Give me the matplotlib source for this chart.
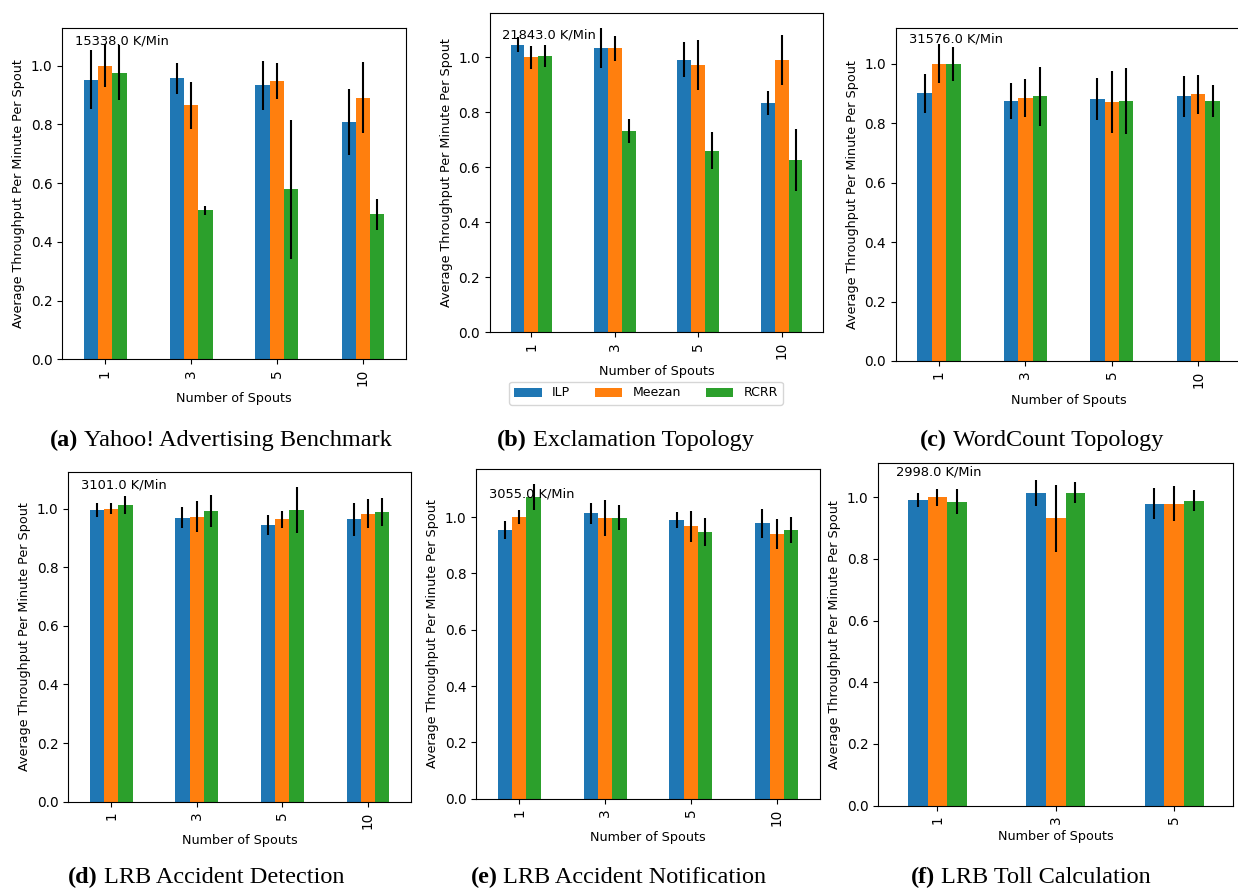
import matplotlib
matplotlib.use("Agg")
import matplotlib.pyplot as plt
import numpy as np
from matplotlib.offsetbox import TextArea, HPacker, AnchoredOffsetbox

# ---- data -------------------------------------------------------------
series_names = ["ILP", "Meezan", "RCRR"]
series_colors = ["#1f77b4", "#ff7f0e", "#2ca02c"]

spouts_4 = ["1", "3", "5", "10"]
spouts_3 = ["1", "3", "5"]

# (a) Yahoo! Advertising Benchmark
a_ilp = [0.952, 0.956, 0.933, 0.808]
a_ilp_err = [0.100, 0.052, 0.084, 0.112]
a_meezan = [1.000, 0.865, 0.947, 0.891]
a_meezan_err = [0.074, 0.080, 0.061, 0.122]
a_rcrr = [0.976, 0.507, 0.578, 0.494]
a_rcrr_err = [0.095, 0.015, 0.235, 0.053]
a_note = "15338.0 K/Min"

# (b) Exclamation Topology
b_ilp = [1.046, 1.035, 0.992, 0.834]
b_ilp_err = [0.027, 0.072, 0.065, 0.045]
b_meezan = [1.000, 1.033, 0.972, 0.992]
b_meezan_err = [0.043, 0.045, 0.092, 0.091]
b_rcrr = [1.005, 0.731, 0.661, 0.627]
b_rcrr_err = [0.040, 0.044, 0.067, 0.114]
b_note = "21843.0 K/Min"

# (c) WordCount Topology
c_ilp = [0.900, 0.874, 0.881, 0.890]
c_ilp_err = [0.066, 0.060, 0.070, 0.069]
c_meezan = [1.000, 0.885, 0.871, 0.897]
c_meezan_err = [0.066, 0.063, 0.104, 0.066]
c_rcrr = [1.000, 0.890, 0.874, 0.874]
c_rcrr_err = [0.057, 0.098, 0.111, 0.054]
c_note = "31576.0 K/Min"

# (d) LRB Accident Detection
d_ilp = [0.995, 0.969, 0.943, 0.963]
d_ilp_err = [0.023, 0.035, 0.034, 0.057]
d_meezan = [1.000, 0.972, 0.963, 0.982]
d_meezan_err = [0.020, 0.052, 0.030, 0.050]
d_rcrr = [1.011, 0.992, 0.995, 0.989]
d_rcrr_err = [0.031, 0.054, 0.077, 0.047]
d_note = "3101.0 K/Min"

# (e) LRB Accident Notification
e_ilp = [0.954, 1.014, 0.991, 0.978]
e_ilp_err = [0.031, 0.037, 0.028, 0.052]
e_meezan = [1.000, 0.998, 0.967, 0.940]
e_meezan_err = [0.026, 0.064, 0.054, 0.054]
e_rcrr = [1.071, 0.998, 0.947, 0.954]
e_rcrr_err = [0.045, 0.044, 0.051, 0.046]
e_note = "3055.0 K/Min"

# (f) LRB Toll Calculation
f_ilp = [0.991, 1.015, 0.979]
f_ilp_err = [0.022, 0.042, 0.051]
f_meezan = [1.000, 0.931, 0.979]
f_meezan_err = [0.027, 0.110, 0.057]
f_rcrr = [0.986, 1.015, 0.989]
f_rcrr_err = [0.039, 0.033, 0.035]
f_note = "2998.0 K/Min"

captions = [
    ("(a)", "Yahoo! Advertising Benchmark"),
    ("(b)", "Exclamation Topology"),
    ("(c)", "WordCount Topology"),
    ("(d)", "LRB Accident Detection"),
    ("(e)", "LRB Accident Notification"),
    ("(f)", "LRB Toll Calculation"),
]

# ---- layout -----------------------------------------------------------
W, H = 1238, 890
fig = plt.figure(figsize=(W / 100, H / 100), dpi=100)
FS = 9.2
TICK_FS = 9.8


def px_axes(x0, y0, x1, y1):
    return fig.add_axes([x0 / W, 1 - y1 / H, (x1 - x0) / W, (y1 - y0) / H])


def grouped_bars(ax, ticks, vals, errs, note):
    n = len(ticks)
    x = np.arange(n)
    w = 0.5 / 3
    handles = []
    for i, (v, e) in enumerate(zip(vals, errs)):
        h = ax.bar(x + (i - 1) * w, v, width=w, yerr=e,
                   color=series_colors[i], label=series_names[i],
                   error_kw=dict(ecolor="black", elinewidth=1.5, capsize=0))
        handles.append(h)
    ax.set_xlim(-0.5, n - 0.5)
    ax.set_xticks(x)
    ax.set_xticklabels(ticks, rotation=90)
    ax.set_xlabel("Number of Spouts", fontsize=FS)
    ax.set_ylabel("Average Throughput Per Minute Per Spout", fontsize=FS)
    ax.tick_params(labelsize=TICK_FS)
    ax.text(-0.35, 1.07, note, fontsize=9.4)
    return handles


ax_a = px_axes(62, 28, 406, 359.3)
handles = grouped_bars(ax_a, spouts_4, [a_ilp, a_meezan, a_rcrr],
                       [a_ilp_err, a_meezan_err, a_rcrr_err], a_note)

ax_b = px_axes(489.7, 12.7, 823.3, 332.3)
grouped_bars(ax_b, spouts_4, [b_ilp, b_meezan, b_rcrr],
             [b_ilp_err, b_meezan_err, b_rcrr_err], b_note)

ax_c = px_axes(895.8, 28.3, 1241.4, 361)
grouped_bars(ax_c, spouts_4, [c_ilp, c_meezan, c_rcrr],
             [c_ilp_err, c_meezan_err, c_rcrr_err], c_note)

ax_d = px_axes(68.3, 471.7, 410.7, 801.7)
grouped_bars(ax_d, spouts_4, [d_ilp, d_meezan, d_rcrr],
             [d_ilp_err, d_meezan_err, d_rcrr_err], d_note)

ax_e = px_axes(476.3, 468.7, 819.7, 798.7)
grouped_bars(ax_e, spouts_4, [e_ilp, e_meezan, e_rcrr],
             [e_ilp_err, e_meezan_err, e_rcrr_err], e_note)

ax_f = px_axes(878.2, 463.3, 1233.3, 805.7)
grouped_bars(ax_f, spouts_3, [f_ilp, f_meezan, f_rcrr],
             [f_ilp_err, f_meezan_err, f_rcrr_err], f_note)

# shared legend under the Exclamation panel
fig.legend(handles, series_names, loc="center",
           bbox_to_anchor=(646 / W, 1 - 393 / H), ncol=3, fontsize=9,
           handlelength=2.2)

# sub-figure captions
caption_centers = [(220.5, 440), (625, 440), (1042, 440),
                   (206, 877), (618.5, 877), (1031, 877)]
CAP_FS = 17.5
for (tag, title), (cx, cy) in zip(captions, caption_centers):
    bold = TextArea(tag, textprops=dict(family="Liberation Serif",
                                        weight="bold", size=CAP_FS))
    rest = TextArea(title, textprops=dict(family="Liberation Serif",
                                          size=CAP_FS))
    pack = HPacker(children=[bold, rest], align="baseline", pad=0,
                   sep=CAP_FS * 0.25)
    box = AnchoredOffsetbox(loc="center", child=pack, pad=0, borderpad=0,
                            frameon=False,
                            bbox_to_anchor=(cx / W, 1 - cy / H),
                            bbox_transform=fig.transFigure)
    fig.add_artist(box)

fig.savefig("out.png", dpi=100)
